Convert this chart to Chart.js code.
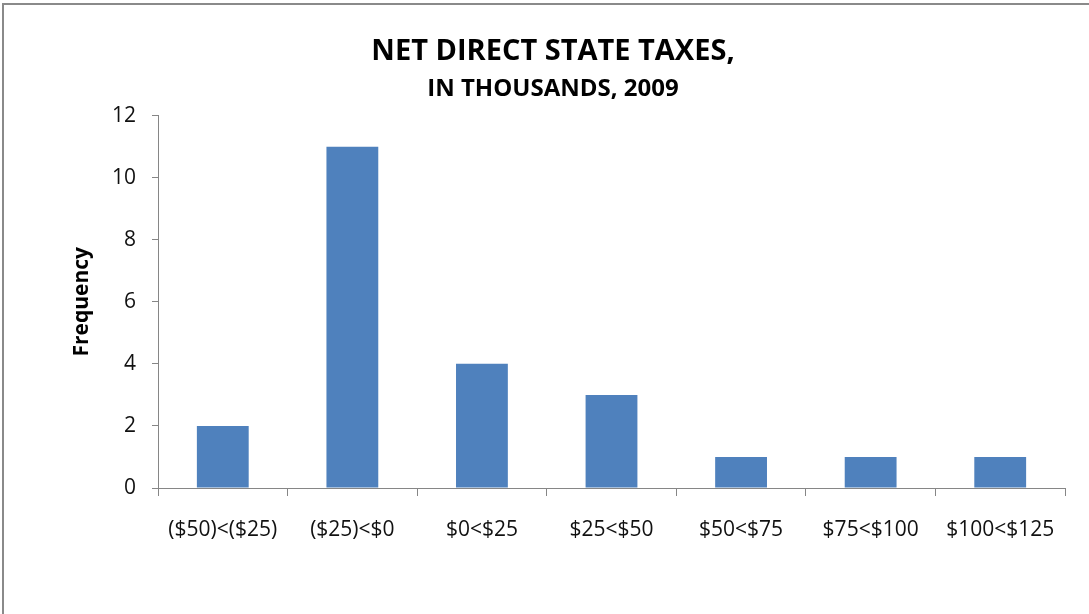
<!DOCTYPE html>
<html>
<head>
<meta charset="utf-8">
<script src="https://cdn.jsdelivr.net/npm/chart.js@4"></script>
<style>
  html, body { margin: 0; padding: 0; background: #fff; overflow: hidden; }
  #wrap { position: relative; width: 1089px; height: 614px; }
  #frame { position: absolute; left: 2px; top: 3px; width: 1100px; height: 700px;
           border: 2px solid #8a8a8a; box-sizing: border-box; pointer-events: none; }
</style>
</head>
<body>
<div id="wrap">
  <canvas id="grafica" width="1089" height="614"></canvas>
  <div id="frame"></div>
</div>
<script>
const categories = ['($50)<($25)', '($25)<$0', '$0<$25', '$25<$50', '$50<$75', '$75<$100', '$100<$125'];
const frequency = [2, 11, 4, 3, 1, 1, 1];
const yTicks = [0, 2, 4, 6, 8, 10, 12];

const barColor = '#4f81bd';
const axisColor = '#868686';
const fontFamily = '"Open Sans", "Liberation Sans", sans-serif';

const graph = document.querySelector('#grafica');

const data = {
    labels: categories,
    datasets: [{
        data: frequency,
        backgroundColor: barColor,
        barPercentage: 0.4,
        categoryPercentage: 1
    }]
};

const config = {
    type: 'bar',
    data: data,
    options: {
        responsive: false,
        animation: false,
        layout: { padding: { left: 41, right: 24, top: 0, bottom: 0 } },
        plugins: {
            legend: { display: false },
            tooltip: { enabled: false },
            title: {
                display: true,
                text: 'NET DIRECT STATE TAXES,',
                color: '#000',
                font: { family: fontFamily, size: 29, weight: 'bold' },
                padding: { top: 34, bottom: 2 }
            },
            subtitle: {
                display: true,
                text: 'IN THOUSANDS, 2009',
                color: '#000',
                font: { family: fontFamily, size: 24, weight: 'bold' },
                padding: { top: 4, bottom: 12 }
            }
        },
        scales: {
            x: {
                offset: true,
                grid: { display: true, offset: true, drawOnChartArea: false, drawTicks: true, tickLength: 8, color: axisColor },
                border: { display: true, color: axisColor },
                ticks: { color: '#111', padding: 21, font: { family: fontFamily, size: 21 }, maxRotation: 0 },
                afterFit: s => { s.height = 126; }
            },
            y: {
                min: 0,
                max: 12,
                afterBuildTicks: s => { s.ticks = yTicks.map(v => ({ value: v })); },
                grid: { display: true, drawOnChartArea: false, drawTicks: true, tickLength: 6, color: axisColor },
                border: { display: true, color: axisColor },
                ticks: { color: '#111', padding: 16, font: { family: fontFamily, size: 21 } },
                title: {
                    display: true,
                    text: 'Frequency',
                    color: '#000',
                    font: { family: fontFamily, size: 21, weight: 'bold' },
                    padding: { top: 28, bottom: 0 }
                },
                afterFit: s => { s.width = 117; }
            }
        }
    }
};

new Chart(graph, config);
</script>
</body>
</html>
